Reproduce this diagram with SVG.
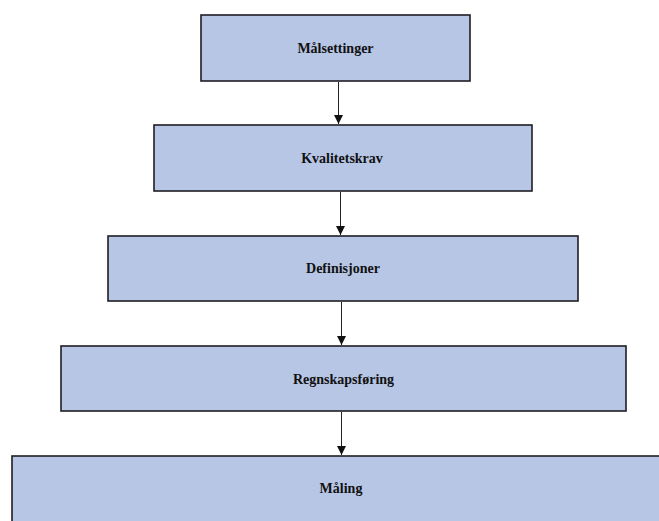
<svg xmlns="http://www.w3.org/2000/svg" width="659" height="521" viewBox="0 0 659 521">
<defs>
<style>
.box{fill:#b7c6e5;stroke:#1f1f24;stroke-width:1.6}
.lbl{font-family:"Liberation Serif","Times New Roman",serif;font-weight:bold;font-size:14px;fill:#111;text-anchor:middle}
.conn{stroke:#222;stroke-width:1;fill:none;marker-end:url(#ah)}
</style>
<marker id="ah" viewBox="0 0 10 10" refX="10" refY="5" markerWidth="9" markerHeight="9" markerUnits="userSpaceOnUse" orient="auto">
<path d="M0,0 L10,5 L0,10 z" fill="#111"/>
</marker>
</defs>
<rect width="659" height="521" fill="#ffffff"/>
<g id="connectors">
<line class="conn" x1="338.5" y1="82" x2="338.5" y2="124"/>
<line class="conn" x1="340.5" y1="192" x2="340.5" y2="235"/>
<line class="conn" x1="341.5" y1="302" x2="341.5" y2="345"/>
<line class="conn" x1="341.5" y1="412" x2="341.5" y2="455"/>
</g>
<g id="n1"><rect class="box" x="201" y="15" width="269" height="66"/><text class="lbl" x="335.5" y="53">Målsettinger</text></g>
<g id="n2"><rect class="box" x="154" y="125" width="378" height="66"/><text class="lbl" x="342" y="163">Kvalitetskrav</text></g>
<g id="n3"><rect class="box" x="108" y="236" width="470" height="65"/><text class="lbl" x="343" y="273">Definisjoner</text></g>
<g id="n4"><rect class="box" x="61" y="346" width="565" height="65"/><text class="lbl" x="343.5" y="384">Regnskapsføring</text></g>
<g id="n5"><rect class="box" x="12" y="456" width="660" height="80"/><text class="lbl" x="341" y="493">Måling</text></g>
</svg>
